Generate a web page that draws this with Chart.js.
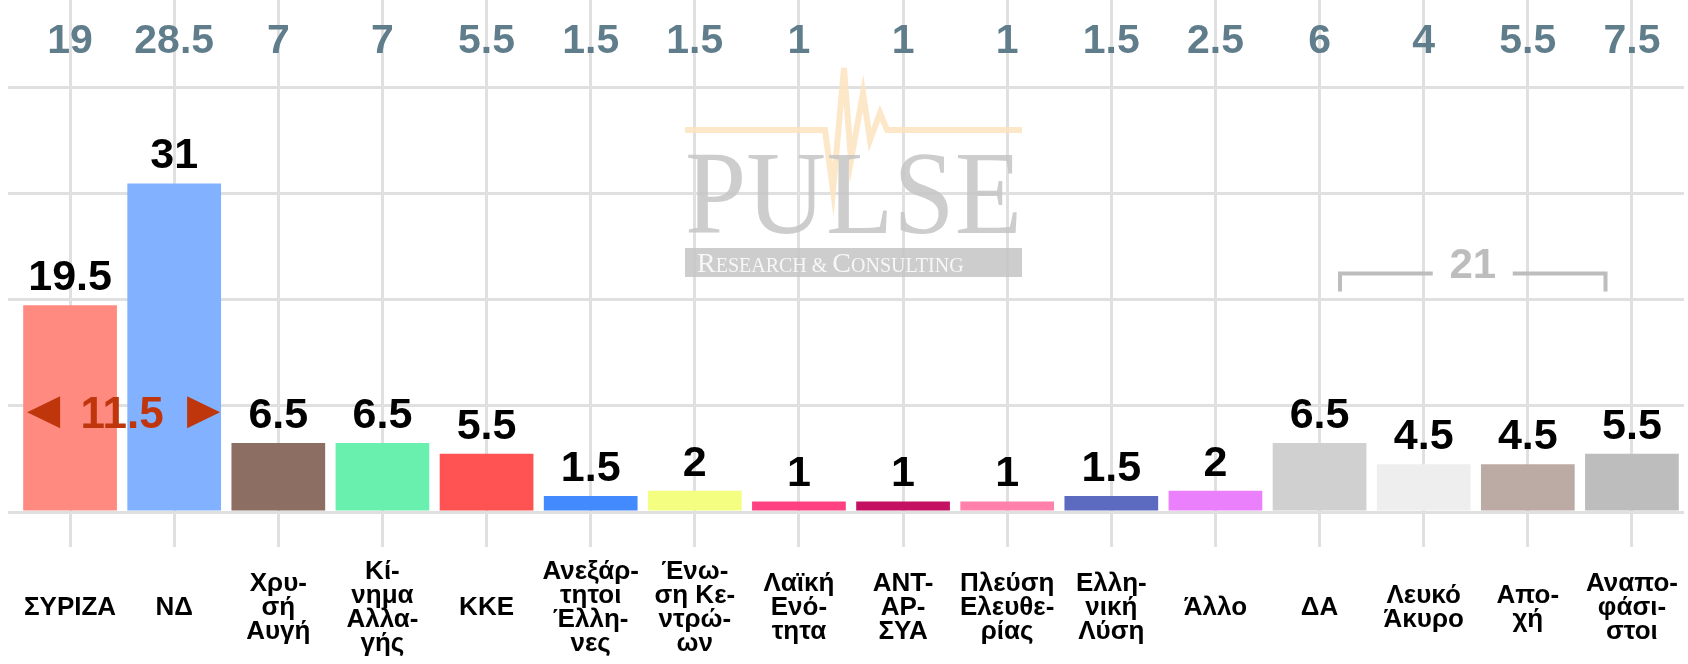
<!DOCTYPE html>
<html lang="el">
<head>
<meta charset="utf-8">
<title>Pulse - δημοσκόπηση</title>
<script src="https://cdn.jsdelivr.net/npm/chart.js@4"></script>
<style>
  html, body { margin: 0; padding: 0; background: #fff; }
  #contenedor { width: 1688px; height: 664px; }
</style>
</head>
<body>
<div id="contenedor"><canvas id="miGrafico"></canvas></div>
<script>
// Datos de la encuesta
const partidos = [
    'ΣΥΡΙΖΑ', 'ΝΔ', ['Χρυ-', 'σή', 'Αυγή'], ['Κί-', 'νημα', 'Αλλα-', 'γής'], 'ΚΚΕ',
    ['Ανεξάρ-', 'τητοι', 'Έλλη-', 'νες'], ['Ένω-', 'ση Κε-', 'ντρώ-', 'ων'], ['Λαϊκή', 'Ενό-', 'τητα'],
    ['ΑΝΤ-', 'ΑΡ-', 'ΣΥΑ'], ['Πλεύση', 'Ελευθε-', 'ρίας'], ['Ελλη-', 'νική', 'Λύση'], 'Άλλο',
    'ΔΑ', ['Λευκό', 'Άκυρο'], ['Απο-', 'χή'], ['Αναπο-', 'φάσι-', 'στοι']
];
const valores = [19.5, 31, 6.5, 6.5, 5.5, 1.5, 2, 1, 1, 1, 1.5, 2, 6.5, 4.5, 4.5, 5.5];
const anteriores = [19, 28.5, 7, 7, 5.5, 1.5, 1.5, 1, 1, 1, 1.5, 2.5, 6, 4, 5.5, 7.5];
const colores = [
    '#ff8a80', '#82b1ff', '#8d6e63', '#69f0ae', '#ff5252', '#448aff', '#f4ff81', '#ff4081',
    '#c51162', '#ff80ab', '#5c6bc0', '#ea80fc', '#d0d0d0', '#eeeeee', '#bcaaa4', '#bdbdbd'
];
const marcasY = [0, 10, 20, 30, 40];
const grupoNoVoto = [12, 15]; // de ΔΑ a Αναποφάσιστοι

const fuente = "'Liberation Sans', Arial, sans-serif";
const serif = "'Liberation Serif', 'Times New Roman', serif";

// Logo de fondo (marca de agua)
function dibujarMarcaAgua(ctx) {
    ctx.save();
    ctx.globalAlpha = 0.85;
    // linea del pulso
    ctx.strokeStyle = '#fbe3c0';
    ctx.lineWidth = 6;
    ctx.beginPath();
    ctx.moveTo(685, 130);
    ctx.lineTo(825, 130);
    ctx.lineTo(833, 190);
    ctx.lineTo(844, 68);
    ctx.lineTo(851, 160);
    ctx.lineTo(863, 93);
    ctx.lineTo(870, 140);
    ctx.lineTo(880, 113);
    ctx.lineTo(887, 130);
    ctx.lineTo(1022, 130);
    ctx.stroke();

    ctx.fillStyle = '#c4c4c4';
    ctx.font = '118px ' + serif;
    ctx.textAlign = 'left';
    ctx.textBaseline = 'alphabetic';
    ctx.fillText('PULSE', 685, 233, 337);

    ctx.fillRect(685, 248, 337, 29);
    ctx.fillStyle = '#fff';
    const partes = [['R', 28], ['ESEARCH & ', 20], ['C', 28], ['ONSULTING', 20]];
    let total = 0;
    partes.forEach(p => { ctx.font = p[1] + 'px ' + serif; total += ctx.measureText(p[0]).width; });
    const escala = Math.min(1, 316 / total);
    let px = 697;
    partes.forEach(p => {
        ctx.font = p[1] + 'px ' + serif;
        const w = ctx.measureText(p[0]).width * escala;
        ctx.fillText(p[0], px, 272, w);
        px += w;
    });
    ctx.restore();
}

const etiquetas = {
    id: 'etiquetas',
    beforeDatasetsDraw(chart) {
        dibujarMarcaAgua(chart.ctx);
    },
    afterDatasetsDraw(chart) {
        const ctx = chart.ctx;
        const x = chart.scales.x;
        const y = chart.scales.y;
        const barras = chart.getDatasetMeta(0).data;
        ctx.save();
        ctx.textAlign = 'center';
        ctx.textBaseline = 'alphabetic';

        // valor encima de cada barra
        ctx.font = 'bold 43px ' + fuente;
        ctx.fillStyle = '#000';
        barras.forEach((b, i) => ctx.fillText(String(valores[i]), b.x, b.y - 15));

        // fila de arriba: encuesta anterior
        ctx.font = 'bold 41px ' + fuente;
        ctx.fillStyle = '#607d8b';
        anteriores.forEach((v, i) => ctx.fillText(String(v), x.getPixelForValue(i), 53));

        // diferencia ΝΔ - ΣΥΡΙΖΑ
        const dif = valores[1] - valores[0];
        const medio = (x.getPixelForValue(0) + x.getPixelForValue(1)) / 2;
        const cy = y.getPixelForValue(9.4);
        ctx.fillStyle = '#bf360c';
        ctx.font = 'bold 44px ' + fuente;
        ctx.fillText(String(dif), medio, cy + 16);
        ctx.beginPath();
        ctx.moveTo(medio - 95, cy);
        ctx.lineTo(medio - 62, cy - 16);
        ctx.lineTo(medio - 62, cy + 16);
        ctx.closePath();
        ctx.moveTo(medio + 98, cy);
        ctx.lineTo(medio + 65, cy - 16);
        ctx.lineTo(medio + 65, cy + 16);
        ctx.closePath();
        ctx.fill();

        // corchete con la suma de los que no votan partido
        const suma = valores.slice(grupoNoVoto[0], grupoNoVoto[1] + 1).reduce((a, b) => a + b, 0);
        const xa = x.getPixelForValue(grupoNoVoto[0]);
        const xb = x.getPixelForValue(grupoNoVoto[1]);
        const centro = (xa + xb) / 2 - 3;
        const media = (xb - xa) * 0.425;
        const yl = y.getPixelForValue(22.5);
        const yf = y.getPixelForValue(20.8);
        ctx.strokeStyle = '#bdbdbd';
        ctx.lineWidth = 4;
        ctx.beginPath();
        ctx.moveTo(centro - media, yf);
        ctx.lineTo(centro - media, yl);
        ctx.lineTo(centro - 40, yl);
        ctx.moveTo(centro + 40, yl);
        ctx.lineTo(centro + media, yl);
        ctx.lineTo(centro + media, yf);
        ctx.stroke();
        ctx.fillStyle = '#bdbdbd';
        ctx.font = 'bold 42px ' + fuente;
        ctx.fillText(String(suma), centro, yl + 5);
        ctx.restore();
    }
};

const ctx = document.getElementById('miGrafico').getContext('2d');
const miGrafico = new Chart(ctx, {
    type: 'bar',
    data: {
        labels: partidos,
        datasets: [{
            label: 'Pulse',
            data: valores,
            backgroundColor: colores,
            borderWidth: 0,
            barPercentage: 0.9,
            categoryPercentage: 1
        }]
    },
    options: {
        responsive: true,
        maintainAspectRatio: false,
        animation: false,
        layout: { padding: { left: 8, right: 4, top: 0, bottom: 0 } },
        plugins: {
            legend: { display: false },
            tooltip: { enabled: false }
        },
        scales: {
            x: {
                grid: { offset: false, color: '#e0e0e0', lineWidth: 3, tickLength: 35 },
                border: { display: false },
                ticks: {
                    color: '#000',
                    font: { family: fuente, size: 26, weight: 'bold', lineHeight: 0.92 },
                    padding: 25,
                    crossAlign: 'center',
                    maxRotation: 0,
                    autoSkip: false
                },
                afterFit(escala) {
                    escala.height = 152;
                    escala.paddingLeft = 0;
                    escala.paddingRight = 0;
                }
            },
            y: {
                min: 0,
                max: 48.3,
                grid: { color: '#e0e0e0', lineWidth: 3, tickLength: 10 },
                border: { display: false },
                ticks: { display: false },
                afterBuildTicks(escala) { escala.ticks = marcasY.map(v => ({ value: v })); }
            }
        }
    },
    plugins: [etiquetas]
});
</script>
</body>
</html>
